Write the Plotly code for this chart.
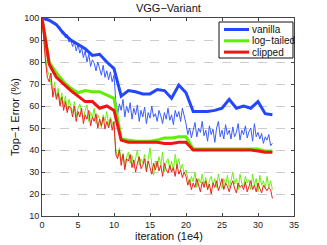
import plotly.graph_objects as go

# validation (thick) curves, one value per 1e4 iterations
val_x = list(range(0, 33))
vanilla_val = [100, 99, 97, 93, 90, 88, 86, 83, 83.5, 80, 77, 64.5, 67, 66.5, 65.5, 65.5,
               67.5, 67, 63.5, 69.5, 66, 57.5, 57.5, 57.5, 58, 59, 63, 59, 60, 59, 62, 56.5, 56]
logtail_val = [100, 80, 75, 71, 68, 66, 67, 66.5, 66.5, 65, 63.5, 45, 44.5, 44, 44, 44,
               44.5, 45.5, 45.5, 46, 46, 40.5, 40.5, 40.5, 40.5, 40.5, 40.5, 40.5, 40.5, 40.5, 40.5, 39.5, 39.5]
clipped_val = [100, 79, 73, 70, 67, 64.5, 62, 62, 59, 60, 58, 44.5, 43.5, 43.5, 43.5, 43.5,
               43.5, 43, 43, 43.5, 43.5, 40, 40, 40, 40, 40, 40, 40, 40, 40, 39.5, 39, 39]

# training (thin) curves, every 0.25e4 iterations
train_x = [i * 0.25 for i in range(129)]
vanilla_train = [
    100, 99.5, 99, 99.5, 98.5, 99, 97.5, 98,
    97, 95.5, 96, 93, 94, 91, 92.5, 89,
    90, 87, 89.5, 85, 88, 84, 86.5, 82,
    85, 80, 83.5, 78, 81, 79.5, 76, 80,
    77, 74, 78.5, 73, 76, 72, 75.5, 71,
    74, 62, 56, 61, 58, 63, 55, 60,
    57, 61.5, 54, 59, 56, 60.5, 53, 58,
    55, 59.5, 52, 57, 54.5, 60, 55, 56.5,
    53, 58, 55.5, 52, 57, 54, 59, 53.5,
    56, 51.5, 58, 55, 57.5, 53, 59, 56,
    52, 47, 50, 45.5, 49, 52.5, 46, 50,
    48, 53, 46.5, 49, 44, 51, 47, 49.5,
    43.5, 50, 53, 46, 49, 45, 51.5, 47,
    49, 45, 50.5, 46, 48, 52, 44.5, 49,
    47, 51, 45.5, 48.5, 50, 44, 52, 46,
    48, 45, 47.5, 43, 46, 44.5, 47, 42,
    43]
logtail_train = [
    100, 90, 82, 76, 74, 70, 66, 71,
    64, 68, 62, 66, 60, 64.5, 58, 63,
    60, 57, 62, 55, 59, 61, 57, 54,
    58, 60.5, 53, 57, 55, 59, 52, 56,
    54, 50, 56, 53, 57.5, 51, 55, 52,
    50, 40, 37, 41, 35, 38.5, 33, 37,
    39, 34, 37.5, 32, 36, 40, 33, 36,
    34, 38, 31, 36.5, 41, 33, 28.5, 35,
    32, 37, 33, 39, 30, 34.5, 36, 31,
    35, 30.5, 38, 33, 36, 31, 33.5, 29,
    31, 27, 24, 28, 25.5, 30, 23, 27,
    25, 29, 24, 27.5, 22, 26, 28, 24,
    27, 23, 29, 25, 22.5, 27, 24, 28.5,
    23, 26, 30, 24.5, 27, 22, 29, 25,
    23.5, 28, 25, 26.5, 22, 29, 24, 27,
    21, 28.5, 24, 26, 22.5, 28, 23, 26,
    22]
clipped_train = [
    100, 88, 80, 73, 71, 75, 64, 68,
    63, 66, 60, 64, 58, 62, 57, 60,
    59, 55, 60, 53, 57.5, 55, 59, 52,
    56, 54, 58, 51, 55, 53, 56.5, 50,
    54, 51, 55, 49.5, 53, 50, 54, 49,
    53, 38, 36, 40, 33, 38, 31, 36,
    35, 38, 32, 35.5, 30, 34, 37, 31.5,
    33, 36, 30, 35, 32, 29, 34, 31,
    35, 30.5, 33, 28, 34, 31, 29.5, 33,
    30, 32, 28, 33.5, 29, 31, 27.5, 30,
    28, 24, 26.5, 22, 25, 23, 27, 24,
    21, 25.5, 23, 26, 22, 24.5, 20, 25,
    23, 26, 21.5, 24, 27, 22, 25, 23.5,
    21, 24, 26, 22.5, 20.5, 25, 23, 24,
    22, 25.5, 21, 23.5, 26, 22, 24, 21,
    25, 22.5, 20.5, 24, 23, 21.5, 23, 22,
    18]

series_names = ["vanilla", "log\u2212tailed", "clipped"]
x_ticks = [0, 5, 10, 15, 20, 25, 30, 35]
y_ticks = [10, 20, 30, 40, 50, 60, 70, 80, 90, 100]

BLUE = "#2346ff"
GREEN = "#5ef000"
RED = "#f01414"
BLUE_T = "#3a5cff"
GREEN_T = "#6cf010"
RED_T = "#f02020"

fig = go.Figure()
for y, c in [(logtail_train, GREEN_T), (clipped_train, RED_T), (vanilla_train, BLUE_T)]:
    fig.add_trace(go.Scatter(x=train_x, y=y, mode="lines", line=dict(color=c, width=1),
                             showlegend=False, hoverinfo="skip"))
colors = [BLUE, GREEN, RED]
for y, c, n in zip([vanilla_val, logtail_val, clipped_val], colors, series_names):
    fig.add_trace(go.Scatter(x=val_x, y=y, mode="lines", line=dict(color=c, width=3), name=n,
                             showlegend=False))

# compact MATLAB-style legend box drawn in paper coordinates
L, R_, T, B = 42, 294, 18, 216
def px(x):
    return (x - L) / (R_ - L)
def py(y):
    return (B - y) / (B - T)

fig.add_shape(type="rect", xref="paper", yref="paper", x0=px(219), x1=px(293),
              y0=py(58), y1=py(22), line=dict(color="#111", width=1), fillcolor="white",
              layer="above")
for i, (n, c) in enumerate(zip(series_names, colors)):
    yy = 29.5 + i * 11.3
    fig.add_shape(type="line", xref="paper", yref="paper", x0=px(224), x1=px(249),
                  y0=py(yy), y1=py(yy), line=dict(color=c, width=3), layer="above")
    fig.add_annotation(xref="paper", yref="paper", x=px(250), y=py(yy), text=n,
                       showarrow=False, xanchor="left", yanchor="middle",
                       font=dict(size=10, color="#111"))

# x-axis title placed as an annotation so its position is exact
fig.add_annotation(xref="paper", yref="paper", x=px(168.5), y=py(236), text="iteration (1e4)",
                   showarrow=False, xanchor="center", yanchor="middle",
                   font=dict(size=11, color="#111"))

fig.update_layout(
    width=327, height=245,
    margin=dict(l=L, r=327 - R_, t=T, b=245 - B),
    paper_bgcolor="white", plot_bgcolor="white",
    font=dict(family="Liberation Sans, Arial, sans-serif", size=9, color="#222"),
    title=dict(text="VGG\u2212Variant", x=0.515, xanchor="center", y=0.965, yanchor="middle",
               font=dict(size=11, color="#111")),
    showlegend=False,
)
fig.update_xaxes(range=[0, 35], tickvals=x_ticks, ticks="inside", ticklen=3, tickcolor="#444",
                 showline=True, linecolor="#444", linewidth=1, mirror="ticks",
                 showgrid=False, zeroline=False, automargin=False, ticklabelstandoff=0)
fig.update_yaxes(range=[10, 100], tickvals=y_ticks, ticks="inside", ticklen=3, tickcolor="#444",
                 showline=True, linecolor="#444", linewidth=1, mirror="ticks",
                 showgrid=True, gridcolor="#cccccc", griddash="dash", gridwidth=1, zeroline=False,
                 automargin=False,
                 title=dict(text="Top\u22121 Error (%)", font=dict(size=11, color="#111"), standoff=2))

fig.write_html("out.html", config={"displayModeBar": False},
               post_script="document.body.style.margin='0';")
